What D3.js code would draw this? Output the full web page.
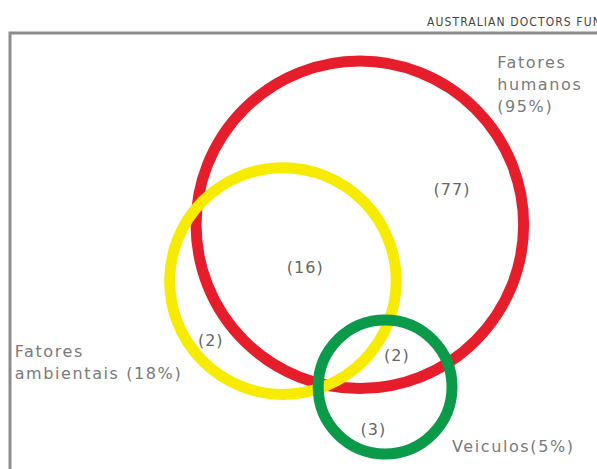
<!DOCTYPE html>
<html>
<head>
<meta charset="utf-8">
<script src="https://cdn.jsdelivr.net/npm/d3@7"></script>
<style>
  body { margin: 0; background: #fff; }
  svg { display: block; }
</style>
</head>
<body>
<div id="chart"></div>
<script>
// sets of the diagram
const setNames = ["Fatores humanos", "Fatores ambientais", "Veiculos"];
const setShares = [95, 18, 5];
const setColors = ["#e61e2b", "#f7ec00", "#0b9a4a"];

// region counts (label + which sets it belongs to)
const regionCounts = [77, 16, 2, 2, 3];
const regionSets = [["H"], ["H", "A"], ["A"], ["H", "A", "V"], ["V"]];

const width = 597, height = 469;

const svg = d3.select("#chart").append("svg")
    .attr("width", width)
    .attr("height", height);

// diagram frame: plotting area in abstract units 0..100
const x = d3.scaleLinear().domain([0, 100]).range([10, 597]);
const y = d3.scaleLinear().domain([0, 100]).range([33, 469]);
const r = d3.scaleLinear().domain([0, 100]).range([0, 587]);

// layout of the circles in diagram units
const layout = [
    { cx: 59.6, cy: 44.0, rad: 27.9 },
    { cx: 46.5, cy: 56.9, rad: 19.3 },
    { cx: 63.9, cy: 81.2, rad: 11.4 }
];

svg.append("text")
    .attr("x", 427)
    .attr("y", 26)
    .attr("font-family", "'Liberation Sans Narrow', 'DejaVu Sans Condensed', sans-serif")
    .attr("font-size", 12)
    .attr("letter-spacing", 1.1)
    .attr("fill", "#444")
    .text("AUSTRALIAN DOCTORS FUND");

svg.append("path")
    .attr("d", `M${x(0)},${height}V${y(0)}H${width}`)
    .attr("fill", "none")
    .attr("stroke", "#8c8c8c")
    .attr("stroke-width", 3);

const circles = setNames.map((name, i) => ({ name, share: setShares[i], color: setColors[i], ...layout[i] }));

svg.selectAll("circle.set")
    .data(circles)
    .enter()
    .append("circle")
    .attr("class", "set")
    .attr("cx", d => x(d.cx))
    .attr("cy", d => y(d.cy))
    .attr("r", d => r(d.rad))
    .attr("fill", "none")
    .attr("stroke", d => d.color)
    .attr("stroke-width", 11);

// region label anchors in diagram units
const regionPos = [
    { px: 75.3, py: 37.2 },
    { px: 50.3, py: 55.0 },
    { px: 34.2, py: 71.8 },
    { px: 65.9, py: 75.2 },
    { px: 61.9, py: 92.2 }
];

svg.selectAll("text.count")
    .data(regionCounts.map((c, i) => ({ c, sets: regionSets[i], ...regionPos[i] })))
    .enter()
    .append("text")
    .attr("class", "count")
    .attr("x", d => x(d.px))
    .attr("y", d => y(d.py))
    .attr("text-anchor", "middle")
    .attr("font-family", "'DejaVu Sans', sans-serif")
    .attr("font-size", 16)
    .attr("letter-spacing", 1)
    .attr("fill", "#666")
    .text(d => `(${d.c})`);

// set labels
const labelLines = [
    { lines: ["Fatores", "humanos", `(${setShares[0]}%)`], px: 83.0, py: 8.0 },
    { lines: ["Fatores", `ambientais (${setShares[1]}%)`], px: 0.8, py: 74.3 },
    { lines: [`Veiculos(${setShares[2]}%)`], px: 75.3, py: 96.1 }
];

labelLines.forEach(l => {
    const t = svg.append("text")
        .attr("x", x(l.px))
        .attr("y", y(l.py))
        .attr("font-family", "'DejaVu Sans', sans-serif")
        .attr("font-size", 16)
        .attr("letter-spacing", 1.6)
        .attr("fill", "#7a7a7a");
    l.lines.forEach((line, i) => {
        t.append("tspan")
            .attr("x", x(l.px))
            .attr("dy", i === 0 ? 0 : 22)
            .text(line);
    });
});
</script>
</body>
</html>
